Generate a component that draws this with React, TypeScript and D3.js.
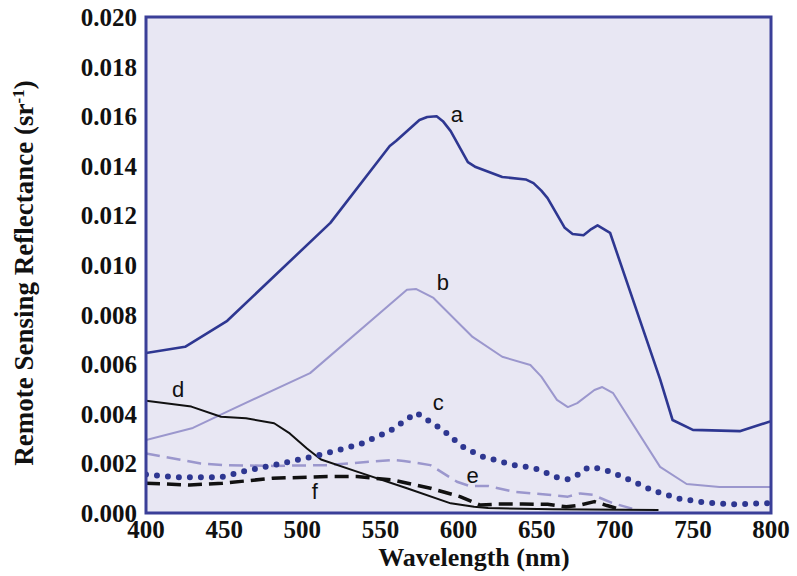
import React from "react";
import * as d3 from "d3";

// wavelength (nm), reflectance (x 0.001 sr^-1)
const curveA: [number, number][] = [
  [400, 6.45], [425, 6.7], [452, 7.75], [518, 11.7], [556, 14.8], [560, 15.0],
  [575, 15.85], [580, 15.97], [586, 16.0], [590, 15.8], [595, 15.4], [606, 14.15], [611, 13.95], [628, 13.55],
  [643, 13.45], [648, 13.3], [653, 13.0], [657, 12.7], [668, 11.5], [673, 11.25], [680, 11.2],
  [685, 11.45], [689, 11.6], [697, 11.3], [729, 5.4], [737, 3.75], [750, 3.35], [780, 3.3], [800, 3.7],
];
const curveB: [number, number][] = [
  [400, 2.94], [430, 3.43], [454, 4.15], [505, 5.64], [567, 9.0], [573, 9.03],
  [584, 8.67], [609, 7.1], [628, 6.3], [646, 5.97], [653, 5.5], [663, 4.56],
  [670, 4.27], [676, 4.43], [687, 4.96], [692, 5.08], [699, 4.83], [729, 1.86],
  [746, 1.17], [767, 1.05], [800, 1.05],
];
const curveC: [number, number][] = [
  [400, 1.55], [420, 1.44], [448, 1.44], [462, 1.67], [484, 1.96], [511, 2.34],
  [537, 2.77], [556, 3.3], [573, 4.04], [590, 3.35], [602, 2.7], [614, 2.3],
  [635, 1.94], [649, 1.8], [663, 1.44], [670, 1.36], [677, 1.56], [683, 1.84],
  [690, 1.8], [697, 1.67], [711, 1.29], [725, 0.89], [741, 0.58], [758, 0.42],
  [776, 0.35], [800, 0.4],
];
const curveD: [number, number][] = [
  [400, 4.53], [429, 4.29], [448, 3.88], [464, 3.82], [482, 3.62], [492, 3.21],
  [503, 2.6], [512, 2.16], [535, 1.67], [567, 1.0], [595, 0.39], [610, 0.25],
  [619, 0.2], [660, 0.15], [728, 0.12],
];
const curveE: [number, number][] = [
  [400, 2.4], [435, 2.0], [449, 1.93], [481, 1.9], [516, 1.93], [558, 2.14],
  [565, 2.1], [582, 1.93], [599, 1.26], [607, 1.09], [619, 1.09], [635, 0.86],
  [648, 0.79], [670, 0.66], [678, 0.79], [686, 0.73], [699, 0.39], [712, 0.16],
];
const curveF: [number, number][] = [
  [400, 1.2], [428, 1.13], [449, 1.2], [481, 1.4], [516, 1.47], [535, 1.47],
  [558, 1.33], [582, 1.0], [601, 0.66], [614, 0.32], [625, 0.36], [641, 0.36],
  [657, 0.35], [669, 0.25], [678, 0.32], [687, 0.46], [695, 0.3], [703, 0.16],
];

const curveLabels = ["a", "b", "c", "d", "e", "f"];
const labelAnchors: [number, number][] = [
  [599, 16.05], [590, 9.29], [587, 4.44], [420.5, 4.96], [609, 1.53], [508, 0.85],
];

const xTicks = [400, 450, 500, 550, 600, 650, 700, 750, 800];
const yTicks = [0, 0.002, 0.004, 0.006, 0.008, 0.01, 0.012, 0.014, 0.016, 0.018, 0.02];

const W = 797;
const H = 576;
const left = 146;
const right = 771;
const top = 17;
const bottom = 513;

const frameColor = "#3a3f98";
const darkBlue = "#2e3791";
const lightPurple = "#9b97cd";

export default function App() {
  const x = d3.scaleLinear().domain([400, 800]).range([left, right]);
  const y = d3.scaleLinear().domain([0, 0.02]).range([bottom, top]);
  const line = d3
    .line<[number, number]>()
    .x((d) => x(d[0]))
    .y((d) => y(d[1] / 1000))
    .curve(d3.curveLinear);

  const serif = "'Liberation Serif', 'Times New Roman', serif";
  const sans = "'Liberation Sans', Arial, sans-serif";

  return (
    <svg
      width={W}
      height={H}
      style={{ position: "absolute", left: 0, top: 0, background: "#fff" }}
    >
      <rect x={left} y={top} width={right - left} height={bottom - top} fill="#e8e7f3" />
      <defs>
        <clipPath id="plot">
          <rect x={left} y={top} width={right - left} height={bottom - top} />
        </clipPath>
      </defs>
      <g clipPath="url(#plot)" strokeLinejoin="round">
        <path d={line(curveB) || ""} fill="none" stroke={lightPurple} strokeWidth={2} />
        <path
          d={line(curveE) || ""}
          fill="none"
          stroke={lightPurple}
          strokeWidth={2.5}
          strokeDasharray="14 7"
        />
        <path d={line(curveD) || ""} fill="none" stroke="#111" strokeWidth={2} />
        <path
          d={line(curveF) || ""}
          fill="none"
          stroke="#111"
          strokeWidth={3.5}
          strokeDasharray="14 7"
        />
        <path
          d={line(curveC) || ""}
          fill="none"
          stroke={darkBlue}
          strokeWidth={6}
          strokeLinecap="round"
          strokeDasharray="0 11"
        />
        <path d={line(curveA) || ""} fill="none" stroke={darkBlue} strokeWidth={2.6} />
      </g>
      <rect
        x={left}
        y={top}
        width={right - left}
        height={bottom - top}
        fill="none"
        stroke={frameColor}
        strokeWidth={3}
      />
      {curveLabels.map((lab, i) => (
        <text
          key={lab}
          x={x(labelAnchors[i][0])}
          y={y(labelAnchors[i][1] / 1000)}
          textAnchor="middle"
          dominantBaseline="central"
          fontFamily={sans}
          fontSize={22}
          fill="#111"
        >
          {lab}
        </text>
      ))}
      {yTicks.map((t) => (
        <text
          key={t}
          x={137}
          y={y(t)}
          dy="0.36em"
          textAnchor="end"
          fontFamily={serif}
          fontWeight="bold"
          fontSize={25}
          fill="#111"
        >
          {t.toFixed(3)}
        </text>
      ))}
      {xTicks.map((t) => (
        <text
          key={t}
          x={x(t)}
          y={538}
          textAnchor="middle"
          fontFamily={serif}
          fontWeight="bold"
          fontSize={25}
          fill="#111"
        >
          {t}
        </text>
      ))}
      <text
        x={474}
        y={566}
        textAnchor="middle"
        fontFamily={serif}
        fontWeight="bold"
        fontSize={26}
        fill="#111"
      >
        Wavelength (nm)
      </text>
      <text
        transform={`translate(33, 273) rotate(-90)`}
        textAnchor="middle"
        fontFamily={serif}
        fontWeight="bold"
        fontSize={27}
        fill="#111"
      >
        Remote Sensing Reflectance (sr
        <tspan baselineShift="super" fontSize={17}>-1</tspan>
        <tspan>)</tspan>
      </text>
    </svg>
  );
}
